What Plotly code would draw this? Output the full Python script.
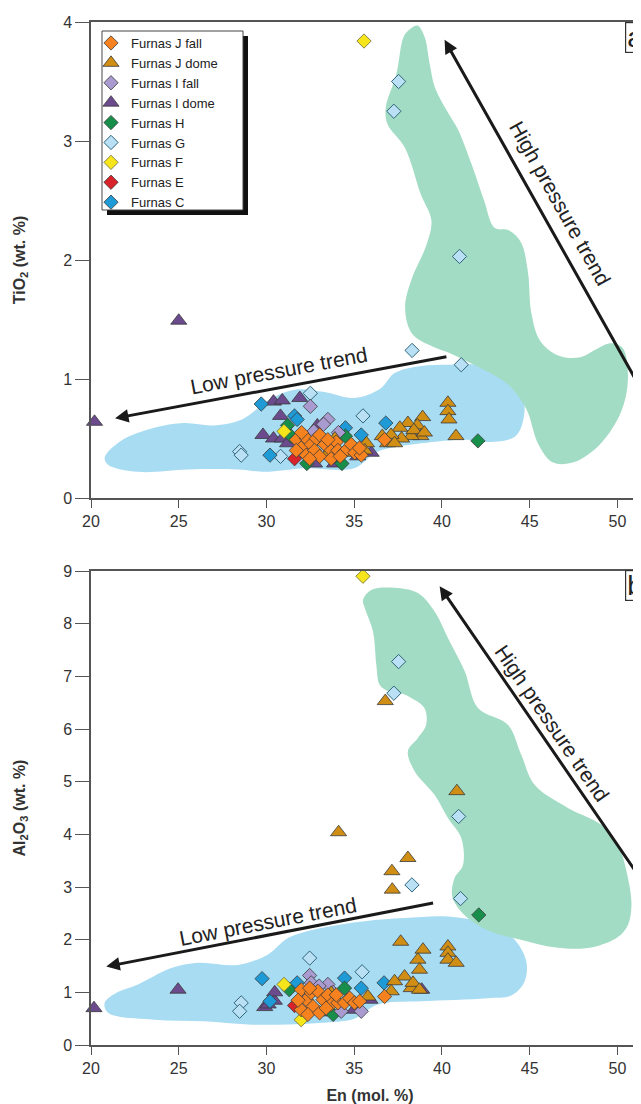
import plotly.graph_objects as go

# ---------------- data : panel a (TiO2) ----------------
jfall_a_x = [31.70, 31.98, 32.27, 32.55, 32.84, 33.03, 32.27, 32.74, 33.03, 33.32, 33.69, 33.98, 34.07, 34.45, 34.83, 35.03, 35.40, 31.70, 32.46, 33.50, 33.69, 36.73, 32.0, 34.2, 35.3]
jfall_a_y = [0.49, 0.42, 0.50, 0.45, 0.50, 0.53, 0.36, 0.40, 0.35, 0.45, 0.40, 0.47, 0.40, 0.39, 0.45, 0.38, 0.36, 0.40, 0.33, 0.49, 0.33, 0.49, 0.55, 0.35, 0.42]
jdome_a_x = [40.34, 40.34, 40.40, 40.80, 38.90, 38.60, 38.06, 37.60, 38.80, 38.25, 37.70, 37.10, 36.60, 36.90, 37.30, 35.70, 33.90, 33.50, 34.60, 35.60, 38.40, 39.00]
jdome_a_y = [0.80, 0.73, 0.66, 0.52, 0.68, 0.61, 0.63, 0.59, 0.52, 0.52, 0.50, 0.53, 0.52, 0.46, 0.46, 0.46, 0.50, 0.38, 0.38, 0.40, 0.57, 0.55]
ifall_a_x = [32.50, 33.50, 33.25, 32.70, 34.10]
ifall_a_y = [0.77, 0.66, 0.62, 0.56, 0.55]
idome_a_x = [20.2, 25.0, 30.4, 30.9, 31.9, 30.8, 29.8, 30.4, 30.9, 32.9, 32.74, 33.88, 35.2, 35.97, 31.2]
idome_a_y = [0.64, 1.49, 0.81, 0.82, 0.84, 0.69, 0.53, 0.50, 0.50, 0.61, 0.29, 0.29, 0.35, 0.38, 0.46]
h_a_x = [42.05, 31.2, 31.4, 32.3, 34.5, 34.3]
h_a_y = [0.48, 0.61, 0.52, 0.29, 0.52, 0.29]
g_a_x = [37.53, 37.26, 41.0, 38.3, 41.1, 35.5, 28.47, 28.56, 30.8, 32.5]
g_a_y = [3.50, 3.25, 2.03, 1.24, 1.12, 0.69, 0.39, 0.36, 0.35, 0.88]
f_a_x = [35.56, 31.0]
f_a_y = [3.84, 0.56]
e_a_x = [31.6]
e_a_y = [0.33]
c_a_x = [29.7, 31.6, 31.75, 34.5, 35.4, 36.8, 30.2]
c_a_y = [0.79, 0.69, 0.66, 0.59, 0.53, 0.63, 0.36]

# ---------------- data : panel b (Al2O3) ----------------
jfall_b_x = [31.98, 32.27, 32.55, 32.93, 33.22, 33.50, 32.65, 31.98, 32.36, 33.03, 33.69, 34.07, 34.45, 34.74, 35.02, 35.31, 33.98, 36.73, 32.46, 31.8, 33.4]
jfall_b_y = [1.05, 0.86, 0.99, 1.02, 0.86, 0.95, 0.73, 0.67, 0.58, 0.61, 0.77, 0.80, 0.80, 0.89, 0.80, 0.83, 0.95, 0.92, 1.08, 0.85, 0.70]
jdome_b_x = [36.77, 40.85, 34.11, 38.06, 37.15, 37.17, 37.65, 38.92, 38.63, 38.72, 40.34, 40.34, 40.34, 40.81, 37.87, 37.30, 38.25, 37.11, 38.35, 35.78, 33.69, 38.72, 34.6]
jdome_b_y = [6.53, 4.82, 4.04, 3.55, 3.30, 2.95, 1.96, 1.81, 1.62, 1.43, 1.87, 1.75, 1.62, 1.56, 1.30, 1.21, 1.08, 1.02, 1.18, 0.92, 0.99, 1.05, 0.85]
ifall_b_x = [32.46, 32.55, 33.5, 33.0, 34.26, 35.4, 33.8]
ifall_b_y = [1.32, 1.18, 1.15, 1.12, 0.64, 0.64, 1.00]
idome_b_x = [20.17, 24.96, 29.9, 30.45, 30.47, 30.1, 35.0, 35.9, 38.85, 33.3]
idome_b_y = [0.70, 1.05, 0.72, 0.84, 1.00, 0.77, 0.67, 0.86, 1.05, 0.62]
h_b_x = [42.1, 31.3, 34.45, 33.8]
h_b_y = [2.47, 1.05, 1.08, 0.58]
g_b_x = [37.53, 37.26, 40.95, 38.29, 41.06, 32.46, 35.45, 28.56, 28.47]
g_b_y = [7.28, 6.68, 4.34, 3.04, 2.78, 1.65, 1.39, 0.80, 0.64]
f_b_x = [35.5, 31.0, 31.98]
f_b_y = [8.90, 1.15, 0.48]
e_b_x = [31.6]
e_b_y = [0.75]
c_b_x = [29.75, 31.75, 34.45, 35.4, 36.7, 30.2]
c_b_y = [1.26, 1.18, 1.27, 1.08, 1.18, 0.83]

# ---------------- fields (outlines of shaded areas) ----------------
low_a_x = [20.78, 21.7, 23.6, 25.3, 27.0, 28.6, 30.2, 31.6, 33.3, 35.0, 36.5, 37.3, 38.82, 40.34, 42.0, 43.7, 44.5, 44.7, 44.2, 42.5, 41.48, 38.82, 36.35, 35.0, 32.18, 29.9, 28.38, 25.53, 22.68, 20.97]
low_a_y = [0.34, 0.48, 0.59, 0.63, 0.61, 0.66, 0.83, 0.91, 0.89, 0.84, 0.92, 1.05, 1.11, 1.12, 1.12, 1.08, 0.92, 0.72, 0.52, 0.47, 0.49, 0.46, 0.39, 0.25, 0.25, 0.22, 0.24, 0.24, 0.22, 0.28]
high_a_x = [38.1, 38.6, 39.0, 39.3, 39.6, 40.3, 40.9, 41.7, 42.4, 43.0, 43.8, 44.5, 44.9, 45.1, 45.6, 46.6, 47.8, 48.8, 49.6, 50.3, 50.6, 50.2, 49.0, 47.5, 46.3, 45.5, 44.8, 43.8, 42.5, 41.4, 40.4, 39.5, 38.3, 37.9, 38.3, 39.1, 39.4, 38.8, 37.9, 36.9, 36.8, 37.4, 37.8]
high_a_y = [3.93, 3.97, 3.88, 3.65, 3.45, 3.25, 3.10, 2.80, 2.50, 2.27, 2.25, 2.15, 1.90, 1.55, 1.32, 1.20, 1.18, 1.25, 1.30, 1.26, 1.00, 0.72, 0.45, 0.30, 0.30, 0.45, 0.75, 0.95, 1.07, 1.15, 1.22, 1.27, 1.38, 1.60, 1.85, 2.12, 2.33, 2.55, 2.94, 3.14, 3.28, 3.56, 3.87]
low_b_x = [20.78, 21.5, 22.68, 24.58, 26.1, 28.38, 30.09, 31.23, 33.12, 35.6, 37.87, 40.34, 42.6, 44.0, 44.8, 44.7, 44.0, 42.6, 38.8, 36.35, 35.0, 33.0, 31.2, 28.95, 26.45, 23.6, 20.97]
low_b_y = [0.80, 1.00, 1.15, 1.46, 1.56, 1.52, 1.72, 2.03, 2.22, 2.35, 2.41, 2.44, 2.30, 2.05, 1.60, 1.20, 0.95, 0.89, 0.83, 0.77, 0.50, 0.42, 0.39, 0.39, 0.45, 0.48, 0.61]
high_b_x = [35.5, 35.97, 37.3, 38.63, 39.58, 40.34, 41.29, 42.05, 43.76, 44.52, 45.28, 47.18, 49.08, 50.03, 50.6, 50.8, 50.6, 50.03, 48.5, 46.5, 44.5, 42.8, 41.5, 40.6, 40.72, 41.2, 41.1, 40.34, 39.58, 38.44, 38.06, 38.63, 39.1, 39.0, 38.25, 37.68, 36.92, 36.45, 36.26, 36.07, 35.6]
high_b_y = [8.45, 8.64, 8.68, 8.58, 8.23, 7.73, 7.10, 6.40, 6.08, 5.51, 4.94, 4.50, 4.18, 3.80, 3.17, 2.66, 2.28, 2.05, 1.85, 1.85, 2.00, 2.15, 2.40, 2.80, 3.17, 3.42, 3.93, 4.31, 4.75, 5.20, 5.58, 5.83, 6.08, 6.40, 6.59, 6.68, 6.72, 6.84, 7.22, 7.85, 8.30]

x_ticks = [20, 25, 30, 35, 40, 45, 50]

series = [
    # name, legend rank, symbol, colour, outline, (xa, ya), (xb, yb)
    ("Furnas I dome", 4, "triangle-up", "#6b4a8e", "#3a3a3a", (idome_a_x, idome_a_y), (idome_b_x, idome_b_y)),
    ("Furnas G", 6, "diamond", "#b9e0f5", "#2f6478", (g_a_x, g_a_y), (g_b_x, g_b_y)),
    ("Furnas C", 9, "diamond", "#1e9bd7", "#3a3a3a", (c_a_x, c_a_y), (c_b_x, c_b_y)),
    ("Furnas H", 5, "diamond", "#178f4a", "#3a3a3a", (h_a_x, h_a_y), (h_b_x, h_b_y)),
    ("Furnas E", 8, "diamond", "#d8232a", "#3a3a3a", (e_a_x, e_a_y), (e_b_x, e_b_y)),
    ("Furnas F", 7, "diamond", "#f7e51c", "#6a6a3a", (f_a_x, f_a_y), (f_b_x, f_b_y)),
    ("Furnas I fall", 3, "diamond", "#a99bcf", "#3a3a3a", (ifall_a_x, ifall_a_y), (ifall_b_x, ifall_b_y)),
    ("Furnas J dome", 2, "triangle-up", "#d18e14", "#3a3a3a", (jdome_a_x, jdome_a_y), (jdome_b_x, jdome_b_y)),
    ("Furnas J fall", 1, "diamond", "#f6821f", "#3a3a3a", (jfall_a_x, jfall_a_y), (jfall_b_x, jfall_b_y)),
]

fig = go.Figure()

BLUE = "#a8dcf3"
GREEN = "#a3dcc4"
for xs, ys, col, xa, ya in [
    (low_a_x, low_a_y, BLUE, "x", "y"),
    (high_a_x, high_a_y, GREEN, "x", "y"),
    (low_b_x, low_b_y, BLUE, "x2", "y2"),
    (high_b_x, high_b_y, GREEN, "x2", "y2"),
]:
    fig.add_trace(go.Scatter(x=xs + xs[:1], y=ys + ys[:1], mode="lines", fill="toself",
                             fillcolor=col, line=dict(width=0, shape="spline", smoothing=1.0),
                             hoverinfo="skip", showlegend=False, xaxis=xa, yaxis=ya))

for name, rank, sym, col, lc, (xa_, ya_), (xb_, yb_) in series:
    size = 14 if sym.startswith("triangle") else 11
    lw = 1.0 if name == "Furnas G" else 0.8
    mk = dict(symbol=sym, size=size, color=col, line=dict(color=lc, width=lw))
    fig.add_trace(go.Scatter(x=xa_, y=ya_, mode="markers", name=name, marker=mk, cliponaxis=False,
                             legendgroup=name, legendrank=rank, showlegend=True,
                             xaxis="x", yaxis="y"))
    fig.add_trace(go.Scatter(x=xb_, y=yb_, mode="markers", name=name, marker=mk, cliponaxis=False,
                             legendgroup=name, showlegend=False,
                             xaxis="x2", yaxis="y2"))

W, H = 641, 1104
L, R, T, B = 83, 0, 14, 67
PW, PH = W - L - R, H - T - B


def px(xp):
    return (xp - L) / PW


def py(yp):
    return (H - B - yp) / PH


FONT = "Arial, Liberation Sans, sans-serif"
AX = dict(showline=True, linecolor="#555", linewidth=1.5, ticks="outside", tickcolor="#555",
          tickwidth=1.3, showgrid=False, zeroline=False,
          tickfont=dict(family=FONT, size=16, color="#333"))

fig.update_layout(
    width=W, height=H, margin=dict(l=L, r=R, t=T, b=B),
    paper_bgcolor="white", plot_bgcolor="white",
    font=dict(family=FONT, color="#222"),
    xaxis=dict(AX, domain=[0, 1], range=[20, 51.8], tickvals=x_ticks, ticklen=8, mirror=True, anchor="y"),
    yaxis=dict(AX, domain=[py(490), 1], range=[0, 4], dtick=1, ticklen=14, anchor="x",
               title=dict(text="<b>TiO<sub>2</sub> (wt. %)</b>", font=dict(size=16, color="#333"), standoff=34)),
    xaxis2=dict(AX, domain=[0, 1], range=[20, 51.8], tickvals=x_ticks, ticklen=8, mirror=True, anchor="y2",
                title=dict(text="<b>En (mol. %)</b>", font=dict(size=16, color="#333"), standoff=14)),
    yaxis2=dict(AX, domain=[0, py(563)], range=[0, 9], dtick=1, ticklen=14, anchor="x2",
                title=dict(text="<b>Al<sub>2</sub>O<sub>3</sub> (wt. %)</b>", font=dict(size=16, color="#333"), standoff=34)),
    showlegend=True,
    legend=dict(x=px(83), y=py(20), xanchor="left", yanchor="top", bgcolor="rgba(0,0,0,0)",
                borderwidth=0, font=dict(size=13, color="#222"), tracegroupgap=0),
)

# legend box with shadow
fig.add_shape(type="rect", xref="paper", yref="paper", x0=px(99), x1=px(240), y0=py(207), y1=py(28),
              fillcolor="#111", line=dict(width=0), layer="above")
fig.add_shape(type="rect", xref="paper", yref="paper", x0=px(94), x1=px(235), y0=py(202), y1=py(23),
              fillcolor="white", line=dict(color="#444", width=1), layer="above")

# panel letters in boxes
for lab, ytop in [("a", 14), ("b", 562)]:
    fig.add_annotation(x=px(617), y=py(ytop), xref="paper", yref="paper",
                       xanchor="left", yanchor="top", text=lab, showarrow=False,
                       width=40, height=27, align="left", valign="middle",
                       bgcolor="white", bordercolor="#333", borderwidth=1.2, borderpad=1,
                       font=dict(size=28, color="#222"))

# trend arrows (head at x,y ; tail at ax,ay)
arrows = [
    ("x", "y", 40.15, 3.85, 51.06, 0.99),
    ("x", "y", 21.37, 0.67, 40.34, 1.19),
    ("x2", "y2", 39.87, 8.71, 51.36, 3.14),
    ("x2", "y2", 20.87, 1.49, 39.58, 2.70),
]
for xr, yr, x, y, ax, ay in arrows:
    fig.add_annotation(x=x, y=y, ax=ax, ay=ay, xref=xr, yref=yr, axref=xr, ayref=yr,
                       text="", showarrow=True, arrowhead=2, arrowsize=0.9, arrowwidth=3,
                       arrowcolor="#1a1a1a", standoff=0)

labels = [
    ("x", "y", 46.7, 2.48, "High pressure trend", 60.7),
    ("x", "y", 30.7, 1.07, "Low pressure trend", -10.6),
    ("x2", "y2", 46.3, 6.11, "High pressure trend", 55.5),
    ("x2", "y2", 30.09, 2.35, "Low pressure trend", -10.9),
]
for xr, yr, x, y, t, ang in labels:
    fig.add_annotation(x=x, y=y, xref=xr, yref=yr, text=t, textangle=ang, showarrow=False,
                       font=dict(size=21, color="#222"))

fig.write_html("out.html")
